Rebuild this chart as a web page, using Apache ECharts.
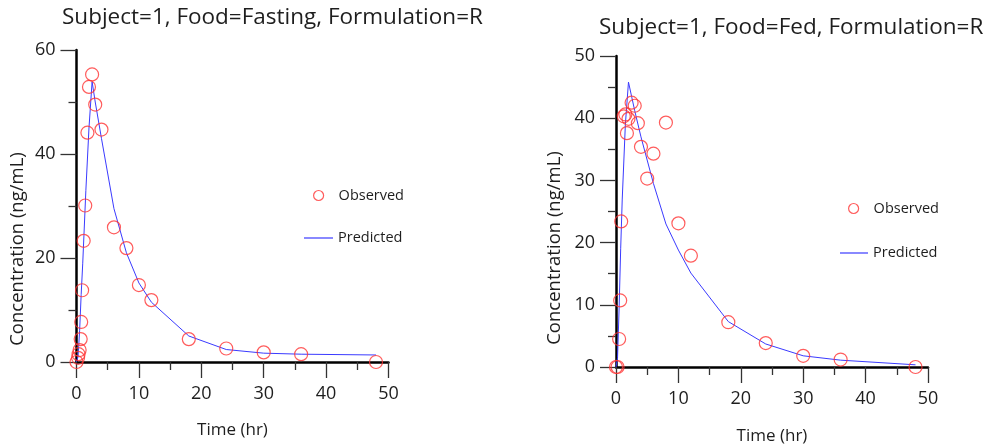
<!DOCTYPE html>
<html>
<head>
<meta charset="utf-8">
<script src="https://cdn.jsdelivr.net/npm/echarts@6/dist/echarts.min.js"></script>
<style>
html,body{margin:0;padding:0;background:#fff;}
#chart{width:989px;height:444px;}
</style>
</head>
<body>
<div id="chart"></div>
<script>
// ---- Data ----
var titles = ['Subject=1, Food=Fasting, Formulation=R', 'Subject=1, Food=Fed, Formulation=R'];
var xTitle = 'Time (hr)';
var yTitle = 'Concentration (ng/mL)';
var legendNames = ['Observed', 'Predicted'];

var fastObsTime = [0, 0.25, 0.33, 0.5, 0.67, 0.75, 0.9, 1.15, 1.4, 1.75, 2, 2.5, 3, 4, 6, 8, 10, 12, 18, 24, 30, 36, 48];
var fastObs     = [0, 0.8, 1.5, 2.3, 4.4, 7.7, 13.8, 23.3, 30.1, 44.1, 52.9, 55.3, 49.5, 44.7, 25.9, 21.9, 14.8, 11.9, 4.4, 2.6, 1.85, 1.5, 0];
var fastPredTime = [0, 0.25, 0.5, 0.75, 1, 1.5, 2, 2.5, 3, 4, 6, 8, 10, 12, 18, 24, 30, 36, 48];
var fastPred     = [0, 1, 6, 13, 19, 33, 45, 53.9, 50, 43, 29.5, 21, 15.2, 11.5, 5, 2.4, 1.7, 1.5, 1.35];

var fedObsTime = [0, 0.25, 0.5, 0.67, 0.83, 1.25, 1.5, 1.75, 2, 2.5, 3, 3.5, 4, 5, 6, 8, 10, 12, 18, 24, 30, 36, 48];
var fedObs     = [0, 0, 4.5, 10.7, 23.4, 40.3, 40.6, 37.6, 39.9, 42.5, 42.0, 39.2, 35.4, 30.3, 34.3, 39.3, 23.1, 17.9, 7.2, 3.85, 1.8, 1.2, 0];
var fedPredTime = [0, 0.25, 0.5, 0.75, 1, 1.5, 2, 2.5, 3, 4, 6, 8, 10, 12, 18, 24, 30, 36, 48];
var fedPred     = [0, 1.5, 9.5, 19, 27, 39, 45.8, 43.5, 41.2, 37, 29.5, 23, 18.8, 15.1, 7.3, 3.7, 1.8, 1.1, 0.35];

var xTicks = [0, 50, 10];      // min, max, interval
var yTicksFast = [0, 60, 20];
var yTicksFed = [0, 50, 10];

function zip(a, b) { return a.map(function (v, i) { return [v, b[i]]; }); }

// ---- Style ----
var FONT = '"Open Sans", "Noto Sans", sans-serif';
var TXT = '#1e1e1e';
var RED = '#ff3333';
var BLUE = '#3a3aff';

function xAxis(gi) {
  return {
    type: 'value', gridIndex: gi, min: xTicks[0], max: xTicks[1], interval: xTicks[2],
    name: xTitle, nameLocation: 'middle', nameGap: gi === 0 ? 60 : 61,
    nameTextStyle: { fontFamily: FONT, fontSize: 17, color: TXT },
    axisLine: { show: true, onZero: false, lineStyle: { color: '#000', width: 2.5 } },
    axisTick: { show: true, inside: false, length: 16, lineStyle: { color: '#333', width: 1.3 } },
    minorTick: { show: true, splitNumber: 2, length: 8, lineStyle: { color: '#333', width: 1.3 } },
    axisLabel: { fontFamily: FONT, fontSize: 18, color: TXT, margin: 23 },
    splitLine: { show: false }
  };
}
function yAxis(gi, t) {
  return {
    type: 'value', gridIndex: gi, min: t[0], max: t[1], interval: t[2],
    axisLine: { show: true, onZero: false, lineStyle: { color: '#000', width: 2.5 } },
    axisTick: { show: true, inside: false, length: 16, lineStyle: { color: '#333', width: 1.3 } },
    minorTick: { show: true, splitNumber: 2, length: 8, lineStyle: { color: '#333', width: 1.3 } },
    axisLabel: { fontFamily: FONT, fontSize: 18, color: TXT, margin: 21 },
    splitLine: { show: false }
  };
}
function obsSeries(i, data) {
  return {
    name: legendNames[0], type: 'scatter', xAxisIndex: i, yAxisIndex: i, data: data,
    symbol: 'circle', symbolSize: 13, z: 3,
    itemStyle: { color: 'transparent', borderColor: RED, borderWidth: 1.2 }
  };
}
function predSeries(i, data) {
  return {
    name: legendNames[1], type: 'line', xAxisIndex: i, yAxisIndex: i, data: data,
    symbol: 'none', showSymbol: false, z: 2,
    lineStyle: { color: BLUE, width: 1 }, itemStyle: { color: BLUE }
  };
}
function legendObs(left, top) {
  return {
    left: left, top: top, orient: 'vertical', selectedMode: false, padding: 0,
    itemWidth: 10, itemHeight: 10, data: [{ name: legendNames[0], icon: 'circle',
      itemStyle: { color: 'transparent', borderColor: RED, borderWidth: 1.2 } }],
    textStyle: { fontFamily: FONT, fontSize: 14.5, color: TXT, padding: [0, 0, 0, 10] }
  };
}
function legendPred(left, top, w) {
  return {
    left: left, top: top, orient: 'vertical', selectedMode: false, padding: 0,
    itemWidth: w, itemHeight: 1.2, data: [{ name: legendNames[1], icon: 'rect',
      itemStyle: { color: BLUE, borderWidth: 0 } }],
    textStyle: { fontFamily: FONT, fontSize: 14.5, color: TXT }
  };
}

var chart = echarts.init(document.getElementById('chart'), null, { renderer: 'canvas' });
chart.setOption({
  backgroundColor: '#fff',
  animation: false,
  title: [
    { text: titles[0], left: 62, top: 6, padding: 0, textStyle: { fontFamily: FONT, fontSize: 22.5, fontWeight: 'normal', color: TXT } },
    { text: titles[1], left: 599, top: 16, padding: 0, textStyle: { fontFamily: FONT, fontSize: 22.5, fontWeight: 'normal', color: TXT } }
  ],
  grid: [
    { left: 76.5, top: 50, width: 312, height: 312, outerBoundsMode: 'none', containLabel: false },
    { left: 616, top: 56, width: 312, height: 311, outerBoundsMode: 'none', containLabel: false }
  ],
  xAxis: [xAxis(0), xAxis(1)],
  yAxis: [yAxis(0, yTicksFast), yAxis(1, yTicksFed)],
  legend: [
    legendObs(313, 188),
    legendPred(304, 230.5, 29),
    legendObs(848, 201),
    legendPred(840, 245.5, 28)
  ],
  graphic: [
    { type: 'text', x: 18, y: 249, rotation: Math.PI / 2,
      style: { text: yTitle, fontFamily: FONT, fontSize: 18.5, fill: TXT, textAlign: 'center', textVerticalAlign: 'middle' } },
    { type: 'text', x: 555, y: 248, rotation: Math.PI / 2,
      style: { text: yTitle, fontFamily: FONT, fontSize: 18.5, fill: TXT, textAlign: 'center', textVerticalAlign: 'middle' } }
  ],
  series: [
    predSeries(0, zip(fastPredTime, fastPred)),
    obsSeries(0, zip(fastObsTime, fastObs)),
    predSeries(1, zip(fedPredTime, fedPred)),
    obsSeries(1, zip(fedObsTime, fedObs))
  ]
});
</script>
</body>
</html>
